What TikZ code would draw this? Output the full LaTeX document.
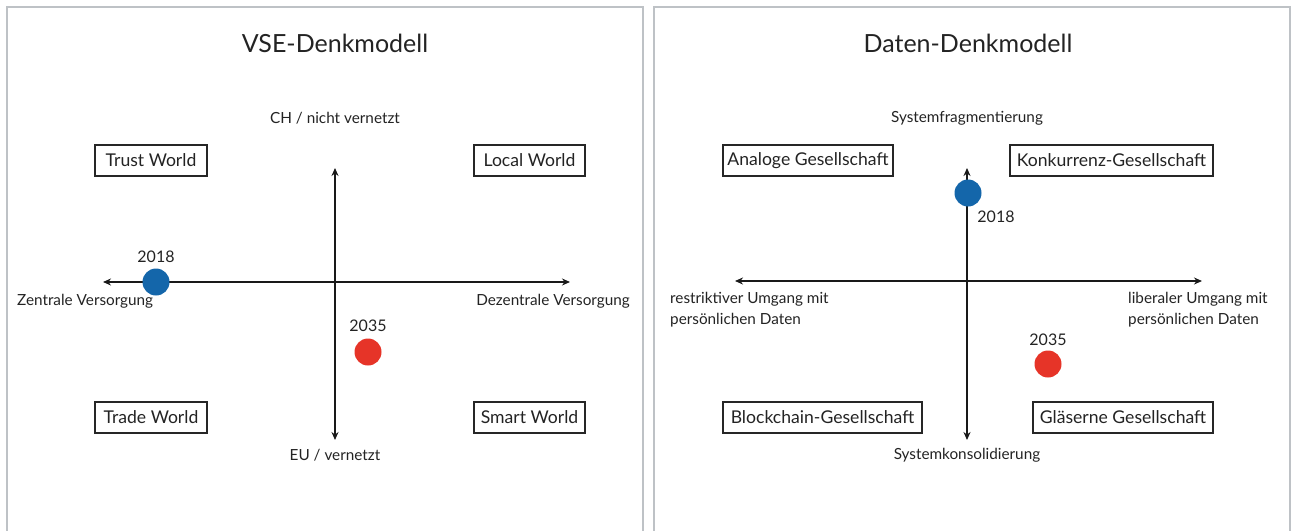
\documentclass[tikz,border=0pt]{standalone}
\usepackage{fontspec}
\setmainfont{Lato}
\usetikzlibrary{arrows.meta}
\definecolor{panelgray}{RGB}{190,194,198}
\definecolor{dotblue}{RGB}{20,102,170}
\definecolor{dotred}{RGB}{230,52,40}
\definecolor{txt}{RGB}{35,35,35}
\tikzset{
  panel/.style={draw=panelgray, line width=1.4pt},
  axis/.style={draw=black!90, line width=1.8pt, {Stealth[length=8pt,width=7pt]}-{Stealth[length=8pt,width=7pt]}},
  worldbox/.style={draw=black!85, line width=1.1pt, minimum height=31pt, inner xsep=4pt, font=\fontsize{17.6}{20}\selectfont, text=txt},
  title/.style={font=\fontsize{25}{30}\selectfont, text=txt},
  axlabel/.style={font=\fontsize{15.3}{21}\selectfont, text=txt, inner sep=0pt},
  year/.style={font=\fontsize{16}{20}\selectfont, text=txt, inner sep=0pt},
  dot/.style={circle, minimum size=27pt, inner sep=0pt},
}
\begin{document}
\begin{tikzpicture}[x=1pt,y=-1pt]
\useasboundingbox (0,0) rectangle (1295,530);
% panels
\draw[panel] (7,535) -- (7,7) -- (643,7) -- (643,535);
\draw[panel] (654,535) -- (654,7) -- (1290,7) -- (1290,535);

% ===== left panel =====
\node[title] (t1) at (335,43) {VSE-Denkmodell};
\coordinate (l-top) at (335,168);
\coordinate (l-bot) at (335,440);
\coordinate (l-left) at (103,282);
\coordinate (l-right) at (570,282);
\draw[axis] (l-top) -- (l-bot);
\draw[axis] (l-left) -- (l-right);
\node[axlabel] (ch) at (335,118) {CH / nicht vernetzt};
\node[axlabel] (eu) at (335,455) {EU / vernetzt};
\node[axlabel, anchor=west] (zv) at (17,301) {Zentrale Versorgung};
\node[axlabel, anchor=east] (dv) at (630,301) {Dezentrale Versorgung};
\node[worldbox, minimum width=112pt] (trust) at (151,160.5) {Trust World};
\node[worldbox, minimum width=111pt] (local) at (529.5,160.5) {Local World};
\node[worldbox, minimum width=112pt] (trade) at (151,417.5) {Trade World};
\node[worldbox, minimum width=111pt] (smart) at (529.5,417.5) {Smart World};
\node[dot, fill=dotblue] (b1) at (156,282) {};
\node[year] (y18a) at (156,257) {2018};
\node[dot, fill=dotred] (r1) at (368,352) {};
\node[year] (y35a) at (368,326) {2035};

% ===== right panel =====
\node[title] (t2) at (968,43) {Daten-Denkmodell};
\coordinate (r-top) at (967,168);
\coordinate (r-bot) at (967,440);
\coordinate (r-left) at (735,281);
\coordinate (r-right) at (1202,281);
\draw[axis] (r-top) -- (r-bot);
\draw[axis] (r-left) -- (r-right);
\node[axlabel] (sf) at (967,118) {Systemfragmentierung};
\node[axlabel] (sk) at (967,455) {Systemkonsolidierung};
\node[axlabel, anchor=west, align=left] (ru) at (670,310) {restriktiver Umgang mit\\persönlichen Daten};
\node[axlabel, anchor=west, align=left] (lu) at (1128,310) {liberaler Umgang mit\\persönlichen Daten};
\node[worldbox, minimum width=170pt] (analog) at (808,160.5) {Analoge Gesellschaft};
\node[worldbox, minimum width=203pt] (konk) at (1111.5,160.5) {Konkurrenz-Gesellschaft};
\node[worldbox, minimum width=199pt] (block) at (822.5,417.5) {Blockchain-Gesellschaft};
\node[worldbox, minimum width=180pt] (glas) at (1123,417.5) {Gläserne Gesellschaft};
\node[dot, fill=dotblue] (b2) at (968,193) {};
\node[year] (y18b) at (996,217) {2018};
\node[dot, fill=dotred] (r2) at (1048,364) {};
\node[year] (y35b) at (1048,340) {2035};
\end{tikzpicture}
\end{document}
